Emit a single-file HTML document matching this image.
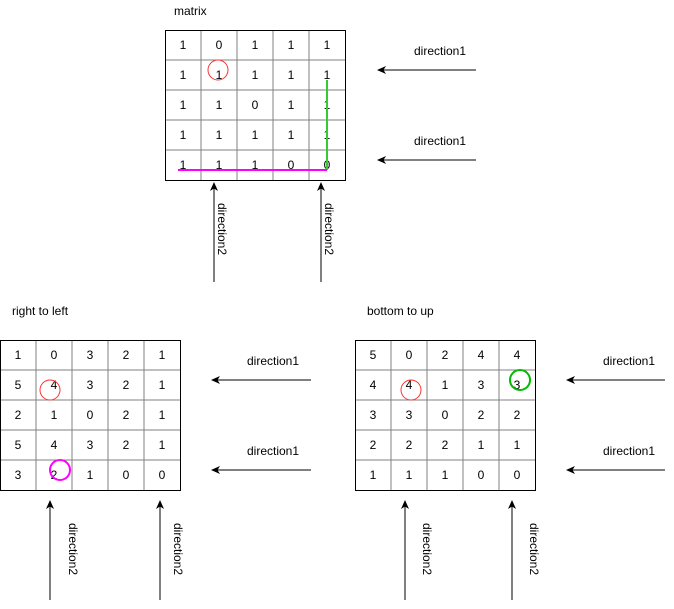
<!DOCTYPE html>
<html><head><meta charset="utf-8"><style>
html,body{margin:0;padding:0;background:#fff;}
svg{display:block;font-family:"Liberation Sans",Arial,sans-serif;font-size:12px;}
.c{text-anchor:middle;}
</style></head><body>
<svg width="674" height="609" viewBox="0 0 674 609" xmlns="http://www.w3.org/2000/svg">
<defs>
<marker id="ah" markerWidth="10" markerHeight="10" refX="8" refY="5" orient="auto" markerUnits="userSpaceOnUse">
<path d="M0,1 L9,5 L0,9 L2.5,5 Z" fill="#000"/>
</marker>
</defs>

<!-- top matrix -->
<text x="174" y="15">matrix</text>
<g stroke="#808080" stroke-width="1">
<line x1="201" y1="30" x2="201" y2="180"/><line x1="237" y1="30" x2="237" y2="180"/><line x1="273" y1="30" x2="273" y2="180"/><line x1="309" y1="30" x2="309" y2="180"/>
<line x1="165" y1="60" x2="345" y2="60"/><line x1="165" y1="90" x2="345" y2="90"/><line x1="165" y1="120" x2="345" y2="120"/><line x1="165" y1="150" x2="345" y2="150"/>
</g>
<rect x="165.5" y="30.5" width="180" height="150" fill="none" stroke="#000"/>
<g class="c">
<text x="183" y="49">1</text><text x="219" y="49">0</text><text x="255" y="49">1</text><text x="291" y="49">1</text><text x="327" y="49">1</text>
<text x="183" y="79">1</text><text x="219" y="79">1</text><text x="255" y="79">1</text><text x="291" y="79">1</text><text x="327" y="79">1</text>
<text x="183" y="109">1</text><text x="219" y="109">1</text><text x="255" y="109">0</text><text x="291" y="109">1</text><text x="327" y="109">1</text>
<text x="183" y="139">1</text><text x="219" y="139">1</text><text x="255" y="139">1</text><text x="291" y="139">1</text><text x="327" y="139">1</text>
<text x="183" y="169">1</text><text x="219" y="169">1</text><text x="255" y="169">1</text><text x="291" y="169">0</text><text x="327" y="169">0</text>
</g>
<circle cx="218" cy="70" r="10" fill="none" stroke="#ff3333"/>
<line x1="327" y1="80" x2="327" y2="170" stroke="#33cc33" stroke-width="2"/>
<line x1="178" y1="170" x2="327" y2="170" stroke="#ff00ff" stroke-width="2"/>

<line x1="476" y1="70" x2="378" y2="70" stroke="#000" marker-end="url(#ah)"/>
<line x1="476" y1="160" x2="378" y2="160" stroke="#000" marker-end="url(#ah)"/>
<text class="c" x="440" y="55">direction1</text>
<text class="c" x="440" y="145">direction1</text>
<line x1="214" y1="282" x2="214" y2="183" stroke="#000" marker-end="url(#ah)"/>
<line x1="321" y1="282" x2="321" y2="183" stroke="#000" marker-end="url(#ah)"/>
<text x="218" y="203" transform="rotate(90 218 203)">direction2</text>
<text x="325" y="203" transform="rotate(90 325 203)">direction2</text>

<!-- bottom left -->
<text x="12" y="315">right to left</text>
<g stroke="#808080">
<line x1="36" y1="340" x2="36" y2="490"/><line x1="72" y1="340" x2="72" y2="490"/><line x1="108" y1="340" x2="108" y2="490"/><line x1="144" y1="340" x2="144" y2="490"/>
<line x1="0" y1="370" x2="180" y2="370"/><line x1="0" y1="400" x2="180" y2="400"/><line x1="0" y1="430" x2="180" y2="430"/><line x1="0" y1="460" x2="180" y2="460"/>
</g>
<rect x="0.5" y="340.5" width="180" height="150" fill="none" stroke="#000"/>
<g class="c">
<text x="18" y="359">1</text><text x="54" y="359">0</text><text x="90" y="359">3</text><text x="126" y="359">2</text><text x="162" y="359">1</text>
<text x="18" y="389">5</text><text x="54" y="389">4</text><text x="90" y="389">3</text><text x="126" y="389">2</text><text x="162" y="389">1</text>
<text x="18" y="419">2</text><text x="54" y="419">1</text><text x="90" y="419">0</text><text x="126" y="419">2</text><text x="162" y="419">1</text>
<text x="18" y="449">5</text><text x="54" y="449">4</text><text x="90" y="449">3</text><text x="126" y="449">2</text><text x="162" y="449">1</text>
<text x="18" y="479">3</text><text x="54" y="479">2</text><text x="90" y="479">1</text><text x="126" y="479">0</text><text x="162" y="479">0</text>
</g>
<circle cx="50" cy="390" r="10" fill="none" stroke="#ff3333"/>
<circle cx="60" cy="470" r="10" fill="none" stroke="#ff00ff" stroke-width="2"/>
<line x1="311" y1="380" x2="212" y2="380" stroke="#000" marker-end="url(#ah)"/>
<line x1="311" y1="470" x2="212" y2="470" stroke="#000" marker-end="url(#ah)"/>
<text class="c" x="273" y="365">direction1</text>
<text class="c" x="273" y="455">direction1</text>
<line x1="50" y1="600" x2="50" y2="501" stroke="#000" marker-end="url(#ah)"/>
<line x1="160" y1="600" x2="160" y2="501" stroke="#000" marker-end="url(#ah)"/>
<text x="69" y="523" transform="rotate(90 69 523)">direction2</text>
<text x="174" y="523" transform="rotate(90 174 523)">direction2</text>

<!-- bottom right -->
<text x="367" y="315">bottom to up</text>
<g stroke="#808080">
<line x1="391" y1="340" x2="391" y2="490"/><line x1="427" y1="340" x2="427" y2="490"/><line x1="463" y1="340" x2="463" y2="490"/><line x1="499" y1="340" x2="499" y2="490"/>
<line x1="355" y1="370" x2="535" y2="370"/><line x1="355" y1="400" x2="535" y2="400"/><line x1="355" y1="430" x2="535" y2="430"/><line x1="355" y1="460" x2="535" y2="460"/>
</g>
<rect x="355.5" y="340.5" width="180" height="150" fill="none" stroke="#000"/>
<g class="c">
<text x="373" y="359">5</text><text x="409" y="359">0</text><text x="445" y="359">2</text><text x="481" y="359">4</text><text x="517" y="359">4</text>
<text x="373" y="389">4</text><text x="409" y="389">4</text><text x="445" y="389">1</text><text x="481" y="389">3</text><text x="517" y="389">3</text>
<text x="373" y="419">3</text><text x="409" y="419">3</text><text x="445" y="419">0</text><text x="481" y="419">2</text><text x="517" y="419">2</text>
<text x="373" y="449">2</text><text x="409" y="449">2</text><text x="445" y="449">2</text><text x="481" y="449">1</text><text x="517" y="449">1</text>
<text x="373" y="479">1</text><text x="409" y="479">1</text><text x="445" y="479">1</text><text x="481" y="479">0</text><text x="517" y="479">0</text>
</g>
<circle cx="411" cy="390" r="10" fill="none" stroke="#ff3333"/>
<circle cx="520" cy="380" r="10" fill="none" stroke="#00bb00" stroke-width="2"/>
<line x1="665" y1="380" x2="567" y2="380" stroke="#000" marker-end="url(#ah)"/>
<line x1="665" y1="470" x2="567" y2="470" stroke="#000" marker-end="url(#ah)"/>
<text class="c" x="629" y="365">direction1</text>
<text class="c" x="629" y="455">direction1</text>
<line x1="405" y1="600" x2="405" y2="501" stroke="#000" marker-end="url(#ah)"/>
<line x1="512" y1="600" x2="512" y2="501" stroke="#000" marker-end="url(#ah)"/>
<text x="423" y="523" transform="rotate(90 423 523)">direction2</text>
<text x="530" y="523" transform="rotate(90 530 523)">direction2</text>
</svg>
</body></html>
